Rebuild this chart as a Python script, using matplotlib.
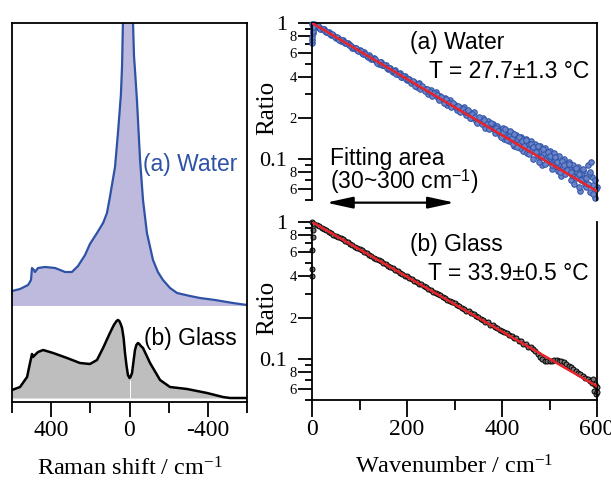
import numpy as np
import matplotlib
matplotlib.use("Agg")
import matplotlib.pyplot as plt
from matplotlib.ticker import NullFormatter

plt.rcParams['font.family'] = ['Liberation Serif', 'DejaVu Serif']
plt.rcParams['mathtext.fontset'] = 'custom'
plt.rcParams['mathtext.rm'] = 'Liberation Serif'
plt.rcParams['mathtext.it'] = 'Liberation Serif:italic'
plt.rcParams['mathtext.sf'] = 'Liberation Sans'

# ---- Raman spectra (left panel), intensity in arbitrary units ----
shift_water = [600, 559, 518, 503, 498, 488, 483, 467, 431, 380, 329, 294, 263, 227, 202,
               166, 135, 115, 100, 74, 59, 44, 38, 33, 25, 8, -12, -18, -23, -28, -38, -54,
               -69, -89, -120, -145, -171, -207, -243, -309, -360, -437, -528, -600]
water_int = [15, 17, 21, 26, 38, 36, 34, 38, 39, 38, 34, 34, 40, 51, 62,
             73, 83, 93, 109, 139, 173, 211, 240, 290, 450, 900, 420, 283, 250, 236, 206, 146,
             106, 73, 46, 34, 26, 18, 13, 10, 8, 6, 3, 1]
water_offset = 92

shift_glass = [600, 559, 523, 508, 498, 493, 483, 467, 441, 390, 319, 253, 202, 166, 135,
               100, 80, 66, 59, 52, 45, 38, 30, 23, 15, 8, 0, -5, -13, -20,
               -28, -35, -43, -50, -58, -69, -105, -156, -207, -294, -396, -477, -513, -600]
glass_int = [8, 11, 21, 35, 44, 41, 43, 46, 48, 45, 40, 35, 34, 38, 50,
             65, 73, 77, 78, 77, 74, 70, 60, 45, 32, 23, 20, 21, 25, 36,
             48, 53, 55, 54, 52, 50, 35, 18, 11, 9, 5, 1, 0, 0]

# ---- anti-Stokes / Stokes ratio (right panels) ----
wn = np.arange(0, 601, 5)
water_ratio = [0.98, 0.99, 0.94, 0.94, 0.90, 0.90, 0.86, 0.86, 0.82, 0.82,
               0.78, 0.78, 0.74, 0.75, 0.71, 0.71, 0.69, 0.66, 0.66, 0.63,
               0.63, 0.60, 0.61, 0.57, 0.58, 0.54, 0.55, 0.53, 0.50, 0.52,
               0.49, 0.49, 0.46, 0.47, 0.44, 0.45, 0.42, 0.43, 0.40, 0.41,
               0.38, 0.39, 0.37, 0.37, 0.34, 0.36, 0.34, 0.33, 0.33, 0.30,
               0.32, 0.30, 0.31, 0.28, 0.29, 0.27, 0.28, 0.25, 0.27, 0.25,
               0.25, 0.23, 0.24, 0.23, 0.24, 0.21, 0.22, 0.20, 0.22, 0.19,
               0.20, 0.19, 0.20, 0.17, 0.19, 0.17, 0.18, 0.155, 0.175, 0.15,
               0.165, 0.14, 0.16, 0.135, 0.155, 0.125, 0.15, 0.13, 0.145, 0.115,
               0.14, 0.12, 0.135, 0.10, 0.13, 0.105, 0.125, 0.09, 0.12, 0.095,
               0.115, 0.085, 0.11, 0.088, 0.105, 0.075, 0.10, 0.08, 0.095, 0.07,
               0.09, 0.072, 0.088, 0.058, 0.082, 0.066, 0.09, 0.057, 0.074, 0.052,
               0.062]
wn_low = np.arange(2.5, 200, 5)
water_ratio_low = [0.97, 0.955, 0.95, 0.91, 0.905, 0.87, 0.865, 0.83, 0.825, 0.79,
                   0.785, 0.755, 0.75, 0.72, 0.715, 0.685, 0.68, 0.655, 0.65, 0.62,
                   0.62, 0.59, 0.59, 0.565, 0.565, 0.54, 0.54, 0.51, 0.515, 0.49,
                   0.49, 0.465, 0.465, 0.445, 0.445, 0.42, 0.425, 0.40, 0.405, 0.385]
wn_half = np.arange(202.5, 600, 5)
water_ratio_half = [0.39, 0.36, 0.375, 0.345, 0.355, 0.325, 0.345, 0.315, 0.325, 0.31,
                    0.29, 0.305, 0.295, 0.27, 0.285, 0.26, 0.275, 0.26, 0.24, 0.26,
                    0.24, 0.245, 0.22, 0.235, 0.22, 0.23, 0.20, 0.215, 0.205, 0.185,
                    0.205, 0.18, 0.195, 0.18, 0.165, 0.185, 0.165, 0.17, 0.16, 0.145,
                    0.17, 0.15, 0.145, 0.15, 0.13, 0.145, 0.14, 0.12, 0.14, 0.13,
                    0.11, 0.13, 0.125, 0.115, 0.12, 0.095, 0.115, 0.11, 0.10, 0.105,
                    0.10, 0.095, 0.098, 0.082, 0.092, 0.088, 0.078, 0.088, 0.085, 0.076,
                    0.083, 0.08, 0.062, 0.076, 0.072, 0.062, 0.078, 0.095, 0.064, 0.06]
wn_quarter = np.arange(401.25, 600, 5)
water_ratio_quarter = [0.158, 0.165, 0.138, 0.16, 0.142, 0.152, 0.122, 0.146, 0.135, 0.125,
                       0.138, 0.108, 0.128, 0.122, 0.112, 0.125, 0.104, 0.118, 0.092, 0.112,
                       0.105, 0.09, 0.104, 0.095, 0.08, 0.097, 0.09, 0.083, 0.092, 0.08,
                       0.066, 0.086, 0.078, 0.07, 0.085, 0.072, 0.066, 0.08, 0.055, 0.07]
water_edge_wn = [0, 0.5, 1, 1.5, 2, 2.5]
water_edge_ratio = [0.71, 0.75, 0.79, 0.84, 0.88, 0.93]

glass_ratio = [1.00, 0.975, 0.955, 0.935, 0.91, 0.89, 0.87, 0.85, 0.835, 0.81,
               0.795, 0.775, 0.76, 0.745, 0.725, 0.71, 0.69, 0.68, 0.66, 0.645,
               0.63, 0.62, 0.60, 0.59, 0.575, 0.565, 0.55, 0.54, 0.525, 0.515,
               0.50, 0.495, 0.48, 0.47, 0.46, 0.445, 0.44, 0.425, 0.42, 0.405,
               0.40, 0.39, 0.383, 0.372, 0.366, 0.355, 0.35, 0.34, 0.334, 0.325,
               0.318, 0.31, 0.305, 0.296, 0.291, 0.283, 0.278, 0.27, 0.266, 0.258,
               0.254, 0.246, 0.243, 0.235, 0.232, 0.225, 0.222, 0.215, 0.212, 0.205,
               0.202, 0.196, 0.193, 0.187, 0.185, 0.178, 0.176, 0.17, 0.169, 0.163,
               0.161, 0.156, 0.154, 0.149, 0.147, 0.142, 0.141, 0.135, 0.134, 0.129,
               0.128, 0.123, 0.122, 0.117, 0.114, 0.109, 0.103, 0.099, 0.097, 0.096,
               0.096, 0.097, 0.098, 0.098, 0.097, 0.096, 0.094, 0.091, 0.089, 0.087,
               0.084, 0.082, 0.079, 0.077, 0.075, 0.073, 0.071, 0.069, 0.067, 0.064,
               0.062]
glass_edge_wn = [0, 0.5, 1, 1.5, 2, 592, 594, 596, 598, 600]
glass_edge_ratio = [0.40, 0.45, 0.62, 0.78, 0.88, 0.071, 0.058, 0.066, 0.055, 0.057]

fit_wn = [0, 600]
water_fit = [1.0, 0.058]
glass_fit = [1.0, 0.063]

blue = '#2e52a6'
sans = ['Liberation Sans', 'DejaVu Sans']
W, H = 611, 480

fig = plt.figure(figsize=(W / 100, H / 100), dpi=100)
ax_r = fig.add_axes([12 / W, 78 / H, 235 / W, 379 / H])
ax_w = fig.add_axes([312 / W, 280 / H, 285 / W, 177 / H])
ax_g = fig.add_axes([312 / W, 80 / H, 285 / W, 178 / H])

# left: Raman spectra
w_y = np.array(water_int) + water_offset
ax_r.fill_between(shift_water, water_offset, w_y, color='#bdbadd', lw=0)
ax_r.plot(shift_water, w_y, color=blue, lw=1.6)
ax_r.fill_between(shift_glass, 0, glass_int, color='#bebebe', lw=0)
ax_r.plot(shift_glass, glass_int, color='black', lw=1.8)
ax_r.vlines(0, 0, np.interp(0, shift_glass[::-1], glass_int[::-1]) - 2, color='white', lw=0.7)
ax_r.set_xlim(600, -600)
ax_r.set_ylim(-4, 375)
ax_r.set_yticks([])
ax_r.set_xticks([400, 0, -400], labels=['400', '0', '-400'])
ax_r.set_xticks([600, 200, -200, -600], minor=True)
ax_r.tick_params(axis='x', which='major', direction='out', length=11, width=1.3, labelsize=17, pad=2)
ax_r.tick_params(axis='x', which='minor', direction='out', length=8, width=1.3)
ax_r.set_xlabel('Raman shift / cm$^{-1}$', fontsize=17.5, labelpad=12)
for s in ax_r.spines.values():
    s.set_linewidth(1.3)

# right: ratio plots
major_y = [0.06, 0.08, 0.1, 0.2, 0.4, 0.6, 0.8, 1.0]
major_lab = ['6', '8', '0.1', '2', '4', '6', '8', '1']
minor_y = [0.05, 0.07, 0.09, 0.3, 0.5, 0.7, 0.9]

for ax in (ax_w, ax_g):
    ax.set_yscale('log')
    ax.set_xlim(0, 600)
    ax.set_ylim(0.05, 1.0)
    ax.set_yticks(major_y, labels=major_lab)
    ax.set_yticks(minor_y, minor=True)
    ax.yaxis.set_minor_formatter(NullFormatter())
    ax.tick_params(axis='y', which='major', direction='out', length=10, width=1.3, pad=1)
    ax.tick_params(axis='y', which='minor', direction='out', length=5, width=1.3)
    for tick, val in zip(ax.yaxis.get_major_ticks(), major_y):
        if val in (0.1, 1.0):
            tick.label1.set_fontsize(16)
            tick.tick1line.set_markersize(13)
            tick.set_pad(8)
        else:
            tick.label1.set_fontsize(10.5)
    for s in ax.spines.values():
        s.set_linewidth(1.3)
    ax.set_ylabel('Ratio', fontsize=18)
    ax.yaxis.set_label_coords(-0.12, 0.52)

ax_w.spines['bottom'].set_visible(False)
ax_w.tick_params(axis='x', which='both', bottom=False, labelbottom=False)
ax_g.spines['top'].set_visible(False)

water_style = dict(s=16, facecolor='#6b83c9', edgecolor=blue, lw=0.7, clip_on=False, zorder=2)
ax_w.scatter(wn, water_ratio, **water_style)
ax_w.scatter(wn_low, water_ratio_low, **water_style)
ax_w.scatter(wn_half, water_ratio_half, **water_style)
ax_w.scatter(wn_quarter, water_ratio_quarter, **water_style)
ax_w.scatter(water_edge_wn, water_edge_ratio, **water_style)
ax_w.plot(fit_wn, water_fit, color='#e8232a', lw=1.8, zorder=3)

glass_style = dict(s=13, facecolor='#777777', edgecolor='black', lw=0.7, clip_on=False, zorder=2)
ax_g.scatter(wn, glass_ratio, **glass_style)
ax_g.scatter(glass_edge_wn, glass_edge_ratio, **glass_style)
ax_g.plot(fit_wn, glass_fit, color='#e8232a', lw=1.8, zorder=3)

ax_g.set_xticks([0, 200, 400, 600], labels=['0', '200', '400', '600'])
ax_g.set_xticks([100, 300, 500], minor=True)
ax_g.tick_params(axis='x', which='major', direction='out', length=12, width=1.3, labelsize=17, pad=2)
ax_g.tick_params(axis='x', which='minor', direction='out', length=7, width=1.3)
ax_g.set_xlabel('Wavenumber / cm$^{-1}$', fontsize=17.5, labelpad=11)

# fitting range arrow
ax_w.annotate('', xy=(30, 0.0478), xytext=(300, 0.0478), annotation_clip=False,
              arrowprops=dict(arrowstyle='<|-|>,head_length=1.6,head_width=0.35', mutation_scale=10,
                              color='black', lw=1.6, shrinkA=0, shrinkB=0))

# annotations
def ftext(x, y, s, **kw):
    fig.text(x / W, 1 - y / H, s, family=sans, fontsize=16.5, va='center', **kw)

ftext(143, 165, '(a) Water', color=blue)
ftext(144, 338, '(b) Glass', color='black')
ftext(410, 42, '(a) Water')
ftext(589, 71, 'T = 27.7±1.3 °C', ha='right')
ftext(330, 158, 'Fitting area')
ftext(330, 182, r'(30~300 cm$^{\mathsf{-1}}$)')
ftext(410, 245, '(b) Glass')
ftext(589, 273, 'T = 33.9±0.5 °C', ha='right')

fig.savefig('out.png', dpi=100)
